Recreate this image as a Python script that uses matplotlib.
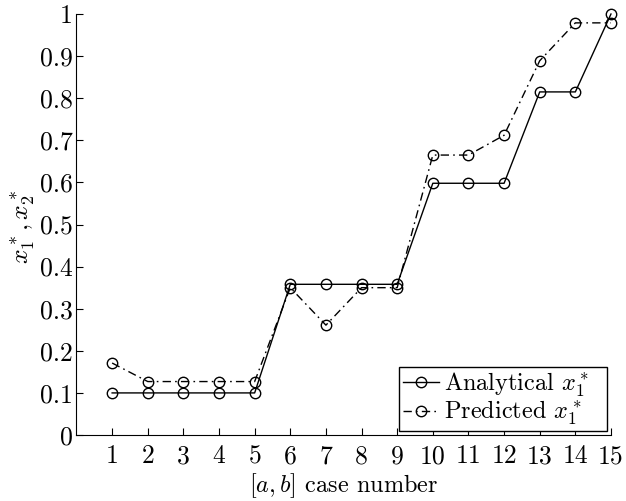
import matplotlib
matplotlib.use("Agg")
import matplotlib.pyplot as plt

plt.rcParams['font.family'] = 'serif'
plt.rcParams['font.serif'] = ['cmr10', 'DejaVu Serif']
plt.rcParams['mathtext.fontset'] = 'cm'
plt.rcParams['axes.formatter.use_mathtext'] = True

cases = list(range(1, 16))
analytical = [0.1, 0.1, 0.1, 0.1, 0.1, 0.358, 0.358, 0.358, 0.358,
              0.598, 0.598, 0.598, 0.815, 0.815, 1.0]
predicted = [0.171, 0.127, 0.127, 0.127, 0.127, 0.35, 0.261, 0.35, 0.35,
             0.665, 0.665, 0.712, 0.889, 0.979, 0.979]
xticks = cases
yticks = [0, 0.1, 0.2, 0.3, 0.4, 0.5, 0.6, 0.7, 0.8, 0.9, 1.0]
yticklabels = ['0', '0.1', '0.2', '0.3', '0.4', '0.5', '0.6', '0.7', '0.8', '0.9', '1']

fig = plt.figure(figsize=(6.26, 5.01), dpi=100)
ax = fig.add_axes([0.1222, 0.1317, 0.8538, 0.8403])

ax.plot(cases, analytical, color='black', linestyle='-', linewidth=1.0,
        marker='o', markersize=7.5, markerfacecolor='none', markeredgewidth=1.0,
        label=r'Analytical $x_1^*$  ', clip_on=False)
ax.plot(cases, predicted, color='black', linestyle=(0, (6, 3, 1.2, 3)), linewidth=1.0,
        marker='o', markersize=7.5, markerfacecolor='none', markeredgewidth=1.0,
        label=r'Predicted $x_1^*$  ', clip_on=False)

ax.set_xlim(0, 15)
ax.set_ylim(0, 1)
ax.set_xticks(xticks)
ax.set_xticklabels([str(c) for c in xticks], fontsize=18.5)
ax.set_yticks(yticks)
ax.set_yticklabels(yticklabels, fontsize=18.5)
ax.tick_params(direction='in', length=5, width=0.8, top=False, right=False)
ax.tick_params(axis='x', pad=7)
ax.tick_params(axis='y', pad=2.5)
ax.spines['top'].set_visible(False)
ax.spines['right'].set_visible(False)
ax.spines['left'].set_linewidth(0.8)
ax.spines['bottom'].set_linewidth(0.8)

ax.set_xlabel(r'$[a, b]$ case number', fontsize=17.5, labelpad=2)
ax.set_ylabel(r'$x_1^*, x_2^*$', fontsize=18.5)
ax.yaxis.set_label_coords(-0.073, 0.494)

leg = ax.legend(loc='lower right', fontsize=17.5, handlelength=1.5,
                handletextpad=0.2, borderpad=0.15, labelspacing=0.0,
                fancybox=False, framealpha=1, edgecolor='black',
                borderaxespad=0.17)
leg.get_frame().set_linewidth(1.0)

fig.savefig('out.png', dpi=100)
